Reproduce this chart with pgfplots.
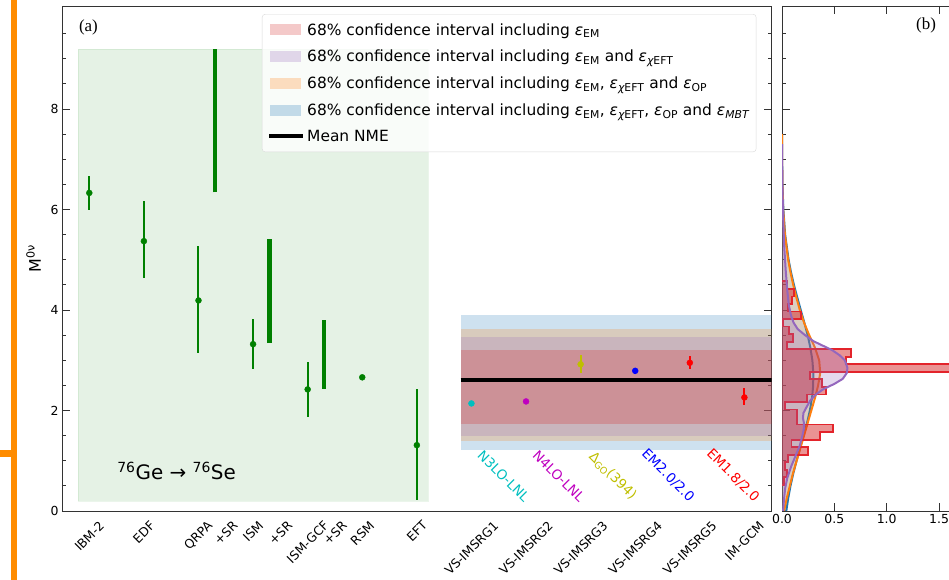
\documentclass[border=0pt]{standalone}
\usepackage{fontspec}
\setmainfont{DejaVu Sans}
\newfontfamily\seriff{Liberation Serif}
\usepackage{graphicx}
\usepackage{pgfplots}
\pgfplotsset{compat=1.18}
\definecolor{tabblue}{HTML}{1F77B4}
\definecolor{taborange}{HTML}{FF7F0E}
\definecolor{tabpurple}{HTML}{9467BD}
\definecolor{tabred}{HTML}{D62728}
\definecolor{histedge}{HTML}{E3242B}
\definecolor{mplgreen}{RGB}{0,128,0}
\definecolor{mplc}{RGB}{0,191,191}
\definecolor{mplm}{RGB}{191,0,191}
\definecolor{mply}{RGB}{191,191,0}
\definecolor{mplb}{RGB}{0,0,255}
\definecolor{mplr}{RGB}{255,0,0}
\definecolor{edgeorange}{RGB}{255,140,0}
\newcommand{\eps}{{\itshape ε}}
\newcommand{\tickfont}{\fontsize{12.5}{15}\selectfont}

% panel (b) curves: x = density, y = M
\pgfplotstableread{
x y
0 0
0.041 0
0.059 0.25
0.081 0.5
0.108 0.75
0.139 1.0
0.172 1.25
0.206 1.5
0.239 1.75
0.266 2.0
0.287 2.25
0.298 2.5
0.299 2.75
0.290 3.0
0.271 3.25
0.245 3.5
0.213 3.75
0.179 4.0
0.146 4.25
0.114 4.5
0.086 4.75
0.063 5.0
0.030 5.5
0.013 6.0
0.0045 6.5
0.0014 7.0
0 7.5
}\blueden
\pgfplotstableread{
x y
0 0
0.020 0
0.045 0.25
0.075 0.5
0.105 0.75
0.140 1.0
0.175 1.25
0.210 1.5
0.245 1.75
0.280 2.0
0.315 2.25
0.345 2.5
0.365 2.75
0.355 3.0
0.315 3.25
0.260 3.5
0.210 3.75
0.170 4.0
0.137 4.25
0.107 4.5
0.081 4.75
0.059 5.0
0.028 5.5
0.011 6.0
0.004 6.5
0.001 7.0
0 7.5
}\orangeden
\pgfplotstableread{
x y
0 0
0.010 0.0
0.020 0.25
0.030 0.45
0.050 0.65
0.090 0.9
0.130 1.1
0.170 1.3
0.195 1.5
0.210 1.65
0.210 1.75
0.200 1.85
0.205 1.95
0.230 2.05
0.270 2.2
0.330 2.33
0.400 2.43
0.500 2.53
0.580 2.63
0.620 2.75
0.625 2.85
0.600 3.0
0.550 3.1
0.480 3.2
0.380 3.3
0.300 3.38
0.220 3.5
0.150 3.62
0.110 3.75
0.085 3.9
0.065 4.1
0.050 4.4
0.035 4.8
0.020 5.3
0.010 5.9
0.004 6.5
0.001 7.0
0 7.3
}\purpleden
% histogram outline (steps)
\pgfplotstableread{
x y
0 0.52
0.02 0.52
0.02 0.67
0.05 0.67
0.05 0.82
0.03 0.82
0.03 0.97
0.06 0.97
0.06 1.12
0.25 1.12
0.25 1.27
0.09 1.27
0.09 1.42
0.36 1.42
0.36 1.57
0.49 1.57
0.49 1.72
0.14 1.72
0.14 1.87
0.14 1.87
0.14 2.02
0.03 2.02
0.03 2.17
0.24 2.17
0.24 2.32
0.42 2.32
0.42 2.47
0.38 2.47
0.38 2.62
0.27 2.62
0.27 2.77
2.20 2.77
2.20 2.92
0.61 2.92
0.61 3.07
0.66 3.07
0.66 3.22
0.045 3.22
0.045 3.37
0.108 3.37
0.108 3.52
0.07 3.52
0.07 3.67
0.013 3.67
0.013 3.82
0.18 3.82
0.18 3.97
0.06 3.97
0.06 4.12
0.092 4.12
0.092 4.27
0.117 4.27
0.117 4.42
0.045 4.42
0.045 4.57
0 4.57
}\hist

\begin{document}
\begin{tikzpicture}
\fill[edgeorange] (11bp,0bp) rectangle (17bp,580bp);
\fill[edgeorange] (0bp,123bp) rectangle (17bp,130bp);

% ---------------- panel (a)
\begin{axis}[
  at={(62bp,69bp)}, anchor=south west,
  scale only axis, width=709.7bp, height=505bp,
  xmin=-0.5, xmax=12.5, ymin=0, ymax=10.05,
  clip mode=individual,
  axis line style={draw=black!80, line width=0.9bp},
  tick align=inside,
  tick style={black!80, line width=0.8bp},
  major tick length=8bp, minor tick length=4bp,
  xtick={0,1,2,2.5,3,3.5,4,4.5,5,6,7,8,9,10,11,12},
  xticklabels={\rotatebox{45}{IBM-2},\rotatebox{45}{EDF},\rotatebox{45}{QRPA},\rotatebox{45}{+SR},\rotatebox{45}{ISM},\rotatebox{45}{+SR},\rotatebox{45}{ISM-GCF},\rotatebox{45}{+SR},\rotatebox{45}{RSM},\rotatebox{45}{EFT},\rotatebox{45}{VS-IMSRG1},\rotatebox{45}{VS-IMSRG2},\rotatebox{45}{VS-IMSRG3},\rotatebox{45}{VS-IMSRG4},\rotatebox{45}{VS-IMSRG5},\rotatebox{45}{IM-GCM}},
  xtick style={draw=none},
  xticklabel style={anchor=north, inner sep=0pt, yshift=-9bp, font=\tickfont},
  ytick={0,2,4,6,8},
  yticklabels={0,2,4,6,8},
  minor ytick={0.5,1,1.5,2.5,3,3.5,4.5,5,5.5,6.5,7,7.5,8.5,9,9.5},
  ytick pos=both, yticklabel pos=left,
  yticklabel style={font=\tickfont},
  ylabel={M\textsuperscript{0ν}},
  ylabel style={at={(rel axis cs:-0.04,0.5)}, anchor=center, font=\fontsize{16}{18}\selectfont},
  legend style={at={(0.2818,0.984)}, anchor=north west,
    draw=black!15, fill=white, fill opacity=0.8, text opacity=1,
    rounded corners=3bp, font=\fontsize{15.5}{18}\selectfont,
    row sep=9.5bp, inner xsep=5bp, inner ysep=7bp},
  legend cell align=left,
]
% green region
\addplot[fill=mplgreen, fill opacity=0.1, draw=mplgreen, draw opacity=0.08, forget plot]
  coordinates {(-0.2,0.2) (6.2,0.2) (6.2,9.2) (-0.2,9.2)} -- cycle;
% bands
\addplot[fill=tabblue, fill opacity=0.22, draw=none, forget plot]
  coordinates {(6.8,1.22) (12.5,1.22) (12.5,3.91) (6.8,3.91)} -- cycle;
\addplot[fill=taborange, fill opacity=0.22, draw=none, forget plot]
  coordinates {(6.8,1.39) (12.5,1.39) (12.5,3.62) (6.8,3.62)} -- cycle;
\addplot[fill=tabpurple, fill opacity=0.22, draw=none, forget plot]
  coordinates {(6.8,1.49) (12.5,1.49) (12.5,3.46) (6.8,3.46)} -- cycle;
\addplot[fill=tabred, fill opacity=0.25, draw=none, forget plot]
  coordinates {(6.8,1.74) (12.5,1.74) (12.5,3.21) (6.8,3.21)} -- cycle;
\addplot[black, line width=4bp, forget plot] coordinates {(6.8,2.61) (12.5,2.61)};
% +SR bars
\addplot[mplgreen, line width=4.5bp, forget plot] coordinates {(2.3,6.34) (2.3,9.2)};
\addplot[mplgreen, line width=4.5bp, forget plot] coordinates {(3.3,3.34) (3.3,5.42)};
\addplot[mplgreen, line width=4.5bp, forget plot] coordinates {(4.3,2.43) (4.3,3.81)};
% green points
\addplot[only marks, mark=*, mark size=3bp, color=mplgreen, forget plot,
  error bars/.cd, y dir=both, y explicit, error mark=none,
  error bar style={line width=2bp, mplgreen}]
  coordinates {
  (0,6.33) += (0,0.33) -= (0,0.33)
  (1,5.37) += (0,0.79) -= (0,0.73)
  (2,4.19) += (0,1.08) -= (0,1.05)
  (3,3.32) += (0,0.51) -= (0,0.49)
  (4,2.42) += (0,0.54) -= (0,0.54)
  (5,2.66) += (0,0) -= (0,0)
  (6,1.31) += (0,1.11) -= (0,1.10)
  };
% VS-IMSRG / IM-GCM
\addplot[only marks, mark=*, mark size=3bp, color=mplc, forget plot] coordinates {(7,2.14)};
\addplot[only marks, mark=*, mark size=3bp, color=mplm, forget plot] coordinates {(8,2.18)};
\addplot[only marks, mark=*, mark size=3bp, color=mply, forget plot,
  error bars/.cd, y dir=both, y explicit, error mark=none, error bar style={line width=2bp, mply}]
  coordinates {(9,2.92) += (0,0.18) -= (0,0.17)};
\addplot[only marks, mark=*, mark size=3bp, color=mplb, forget plot,
  error bars/.cd, y dir=both, y explicit, error mark=none, error bar style={line width=2bp, mplb}]
  coordinates {(10,2.79) += (0,0.06) -= (0,0.07)};
\addplot[only marks, mark=*, mark size=3bp, color=mplr, forget plot,
  error bars/.cd, y dir=both, y explicit, error mark=none, error bar style={line width=2bp, mplr}]
  coordinates {(11,2.95) += (0,0.13) -= (0,0.13) (12,2.26) += (0,0.18) -= (0,0.16)};
% legend
\addlegendimage{legend image code/.code={\path[sharp corners, draw=none, fill=tabred, fill opacity=0.25] (0bp,-5.5bp) rectangle (31bp,5.5bp);}}
\addlegendentry{68\% confidence interval including \eps\textsubscript{EM}}
\addlegendimage{legend image code/.code={\path[sharp corners, draw=none, fill=tabpurple, fill opacity=0.25] (0bp,-5.5bp) rectangle (31bp,5.5bp);}}
\addlegendentry{68\% confidence interval including \eps\textsubscript{EM} and \eps\textsubscript{{\itshape χ}EFT}}
\addlegendimage{legend image code/.code={\path[sharp corners, draw=none, fill=taborange, fill opacity=0.25] (0bp,-5.5bp) rectangle (31bp,5.5bp);}}
\addlegendentry{68\% confidence interval including \eps\textsubscript{EM}, \eps\textsubscript{{\itshape χ}EFT} and \eps\textsubscript{OP}}
\addlegendimage{legend image code/.code={\path[sharp corners, draw=none, fill=tabblue, fill opacity=0.25] (0bp,-5.5bp) rectangle (31bp,5.5bp);}}
\addlegendentry{68\% confidence interval including \eps\textsubscript{EM}, \eps\textsubscript{{\itshape χ}EFT}, \eps\textsubscript{OP} and \eps\textsubscript{\itshape MBT}}
\addlegendimage{legend image code/.code={\draw[sharp corners, black, line width=4bp] (-1bp,0bp) -- (33bp,0bp);}}
\addlegendentry{Mean NME}
% texts
\node[font=\seriff\fontsize{17}{20}\selectfont] at (rel axis cs:0.0373,0.958) {(a)};
\node[anchor=base west, inner sep=0pt, font=\fontsize{20}{24}\selectfont] at (axis cs:0.51,0.62)
  {\textsuperscript{76}Ge → \textsuperscript{76}Se};
\node[anchor=south west, inner sep=0pt, font=\fontsize{13.5}{16}\selectfont, text=mplc] at (axis cs:7.09,0.15) {\rotatebox{-45}{N3LO-LNL}};
\node[anchor=south west, inner sep=0pt, font=\fontsize{13.5}{16}\selectfont, text=mplm] at (axis cs:8.10,0.15) {\rotatebox{-45}{N4LO-LNL}};
\node[anchor=south west, inner sep=0pt, font=\fontsize{13.5}{16}\selectfont, text=mply] at (axis cs:9.11,0.18) {\rotatebox{-45}{Δ\textsubscript{GO}(394)}};
\node[anchor=south west, inner sep=0pt, font=\fontsize{13.5}{16}\selectfont, text=mplb] at (axis cs:10.09,0.15) {\rotatebox{-45}{EM2.0/2.0}};
\node[anchor=south west, inner sep=0pt, font=\fontsize{13.5}{16}\selectfont, text=mplr] at (axis cs:11.28,0.15) {\rotatebox{-45}{EM1.8/2.0}};
\end{axis}

% ---------------- panel (b)
\begin{axis}[
  at={(782bp,69bp)}, anchor=south west,
  scale only axis, width=209.4bp, height=505bp,
  xmin=0, xmax=2, ymin=0, ymax=10.05,
  clip mode=individual,
  axis line style={draw=black!80, line width=0.9bp},
  tick align=inside,
  tick style={black!80, line width=0.8bp},
  major tick length=8bp, minor tick length=4bp,
  xtick={0,0.5,1,1.5,2},
  xticklabels={0.0,0.5,1.0,1.5,2.0},
  xtick pos=both, xticklabel pos=left,
  xticklabel style={font=\tickfont},
  ytick={0,2,4,6,8},
  yticklabels={},
  minor ytick={0.5,1,1.5,2.5,3,3.5,4.5,5,5.5,6.5,7,7.5,8.5,9,9.5},
  ytick pos=both,
]
\addplot[fill=tabblue, fill opacity=0.2, draw=none, forget plot] table[x=x,y=y] {\blueden} -- cycle;
\addplot[tabblue, line width=2bp, forget plot] table[x=x,y=y] {\blueden};
\addplot[fill=taborange, fill opacity=0.2, draw=none, forget plot] table[x=x,y=y] {\orangeden} -- cycle;
\addplot[taborange, line width=2bp, forget plot] table[x=x,y=y] {\orangeden};
\addplot[fill=tabred, fill opacity=0.5, draw=none, forget plot] table[x=x,y=y] {\hist} -- cycle;
\addplot[histedge, line width=1.8bp, forget plot] table[x=x,y=y] {\hist};
\addplot[fill=tabpurple, fill opacity=0.25, draw=none, forget plot] table[x=x,y=y] {\purpleden} -- cycle;
\addplot[tabpurple, line width=2bp, forget plot] table[x=x,y=y] {\purpleden};
\node[font=\seriff\fontsize{17}{20}\selectfont] at (rel axis cs:0.688,0.962) {(b)};
\end{axis}

\pgfresetboundingbox
\path (0bp,0bp) rectangle (949bp,580bp);
\end{tikzpicture}
\end{document}
